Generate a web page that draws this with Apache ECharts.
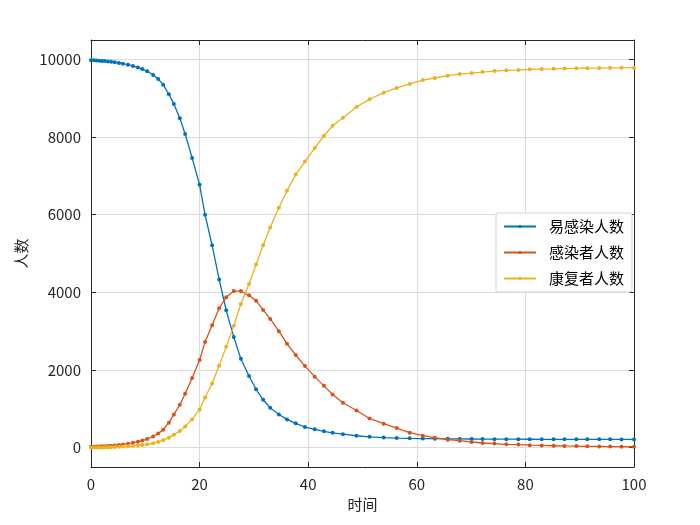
<!DOCTYPE html>
<html>
<head>
<meta charset="utf-8">
<script src="https://cdn.jsdelivr.net/npm/echarts@6/dist/echarts.min.js"></script>
<style>
html,body{margin:0;padding:0;background:#fff;}
#main{width:700px;height:525px;}
</style>
</head>
<body>
<div id="main"></div>
<script>
// 时间 (ode 输出步长)
var tData = [0,0.5,1,1.5,2,2.5,3.1,3.7,4.35,5.15,5.88,6.8,7.72,8.64,9.44,10.35,11.45,12.37,13.29,14.34,
	15.26,16.36,17.34,18.62,20,21,22.3,23.6,24.9,26.3,27.6,29.1,30.4,31.7,33,34.6,36.1,37.7,39.4,41.2,
	42.9,44.5,46.4,48.9,51.3,53.9,56.3,58.7,61.1,63.3,65.7,67.9,70.1,72.1,74.3,76.5,78.7,80.8,83,85.2,
	87.2,89.4,91.4,93.6,95.6,97.7,100];
// 易感染人数
var sData = [9980,9976,9972,9967,9962,9956,9949,9939,9927,9910,9891,9864,9831,9791,9751,9694,9601,9494,9350,9102,
	8854,8487,8077,7462,6769,6000,5213,4333,3538,2846,2290,1846,1503,1231,1026,854,726,625,530,470,
	420,380,345,305,278,258,246,238,233,229,226,223,221,219,218,217,216,215,214,214,
	213,213,212,212,212,211,211];
// 感染者人数
var iData = [20,23,26,29,33,37,42,49,57,69,82,101,124,152,180,220,285,360,460,641,
	854,1103,1385,1795,2256,2718,3154,3590,3872,4033,4033,3923,3785,3546,3315,3000,2674,2385,2100,1828,
	1590,1367,1154,956,751,615,503,385,308,256,205,179,144,118,103,85,77,62,55,48,
	42,38,33,30,27,24,22];
// 康复者人数
var rData = [0,1,2,4,5,7,9,12,16,21,27,35,45,57,69,86,114,146,190,256,
	333,426,546,726,982,1290,1649,2110,2597,3136,3700,4213,4718,5213,5667,6180,6615,7033,7367,7718,
	8033,8290,8495,8777,8974,9144,9264,9367,9469,9521,9580,9623,9649,9674,9700,9718,9726,9744,9751,9758,
	9765,9770,9774,9778,9781,9784,9787];
var seriesNames = ['易感染人数','感染者人数','康复者人数'];
var seriesColors = ['#0072BD','#D95319','#EDB120'];
var yTicks = [0,2000,4000,6000,8000,10000];

function pairs(vals){
	var out = [];
	for(var i = 0; i < tData.length; i++){
		out.push([tData[i], vals[i]]);
	}
	return out;
}

var fontFam = '"Noto Sans CJK SC", "Noto Sans", sans-serif';
var axisCol = '#262626';

function makeSeries(idx, vals){
	return {
		name: seriesNames[idx],
		type: 'line',
		data: pairs(vals),
		showSymbol: true,
		symbol: 'circle',
		symbolSize: 4,
		lineStyle: {color: seriesColors[idx], width: 1.3},
		itemStyle: {color: seriesColors[idx]},
		animation: false
	};
}

var myChart = echarts.init(document.getElementById('main'));
var option = {
	backgroundColor: '#fff',
	animation: false,
	grid: {left: 91, right: 66, top: 40, bottom: 58, containLabel: false},
	legend: {
		orient: 'vertical',
		right: 68,
		top: 213,
		data: seriesNames,
		backgroundColor: '#fff',
		borderColor: '#d4d4d4',
		borderWidth: 1,
		borderRadius: 2,
		padding: [5, 8, 5, 7],
		itemGap: 9,
		itemWidth: 32,
		itemHeight: 4,
		textStyle: {fontFamily: fontFam, fontSize: 15, color: '#000', padding: [0, 0, 0, 8], lineHeight: 17}
	},
	xAxis: [{
		type: 'value',
		min: 0, max: 100, interval: 20,
		name: '时间',
		nameLocation: 'middle',
		nameGap: 30,
		nameTextStyle: {fontFamily: fontFam, fontSize: 15, color: axisCol},
		axisLine: {show: true, onZero: false, lineStyle: {color: axisCol, width: 1}},
		axisTick: {show: true, inside: true, length: 5, lineStyle: {color: axisCol}},
		axisLabel: {fontFamily: fontFam, fontSize: 15, color: axisCol, margin: 10},
		splitLine: {show: true, lineStyle: {color: '#dcdcdc', width: 1}}
	}, {
		type: 'value',
		position: 'top',
		min: 0, max: 100, interval: 20,
		axisLine: {show: true, onZero: false, lineStyle: {color: axisCol, width: 1}},
		axisTick: {show: true, inside: true, length: 5, lineStyle: {color: axisCol}},
		axisLabel: {show: false},
		splitLine: {show: false}
	}],
	yAxis: [{
		type: 'value',
		min: -500, max: 10500,
		name: '人数',
		nameLocation: 'middle',
		nameGap: 60,
		nameRotate: 90,
		nameTextStyle: {fontFamily: fontFam, fontSize: 15, color: axisCol},
		axisLine: {show: true, onZero: false, lineStyle: {color: axisCol, width: 1}},
		axisTick: {show: true, inside: true, length: 5, lineStyle: {color: axisCol}, customValues: yTicks},
		axisLabel: {fontFamily: fontFam, fontSize: 15, color: axisCol, margin: 10, customValues: yTicks,
			formatter: function(v){ return String(v); }},
		splitLine: {show: true, lineStyle: {color: '#dcdcdc', width: 1}}
	}, {
		type: 'value',
		position: 'right',
		min: -500, max: 10500,
		axisLine: {show: true, onZero: false, lineStyle: {color: axisCol, width: 1}},
		axisTick: {show: true, inside: true, length: 5, lineStyle: {color: axisCol}, customValues: yTicks},
		axisLabel: {show: false, customValues: yTicks},
		splitLine: {show: false}
	}],
	series: [
		makeSeries(0, sData),
		makeSeries(1, iData),
		makeSeries(2, rData)
	]
};
myChart.setOption(option);
</script>
</body>
</html>
